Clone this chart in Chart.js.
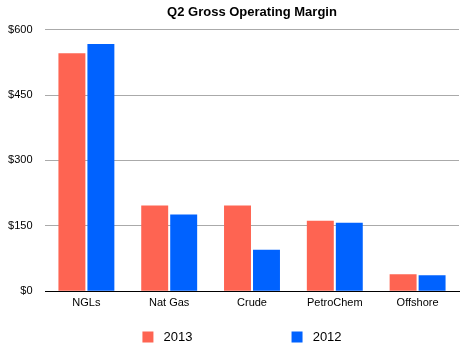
<!DOCTYPE html>
<html>
<head>
<meta charset="utf-8">
<script src="https://cdn.jsdelivr.net/npm/chart.js@4"></script>
<style>
  html, body { margin: 0; padding: 0; background: #fff; }
  #wrap { width: 464px; height: 355px; }
</style>
</head>
<body>
<div id="wrap"><canvas id="c"></canvas></div>
<script>
const titleText = 'Q2 Gross Operating Margin';
const categories = ['NGLs', 'Nat Gas', 'Crude', 'PetroChem', 'Offshore'];
const seriesNames = ['2013', '2012'];
const values2013 = [546, 197, 197, 162, 39];
const values2012 = [567, 176, 95, 157, 37];
const yTickValues = [0, 150, 300, 450, 600];
const yTickLabels = ['$0', '$150', '$300', '$450', '$600'];

const FONT = "'Liberation Sans', Arial, Helvetica, sans-serif";

const legendShift = {
  id: 'legendShift',
  afterLayout(chart) {
    if (chart.legend) {
      chart.legend.left += 8.5;
      chart.legend.right += 8.5;
    }
  }
};

new Chart(document.getElementById('c'), {
  type: 'bar',
  data: {
    labels: categories,
    datasets: [
      { label: seriesNames[0], data: values2013, backgroundColor: '#FE6452', borderWidth: 0 },
      { label: seriesNames[1], data: values2012, backgroundColor: '#0062FF', borderWidth: 0 }
    ]
  },
  plugins: [legendShift],
  options: {
    responsive: true,
    maintainAspectRatio: false,
    animation: false,
    categoryPercentage: 0.7,
    barPercentage: 0.93,
    layout: { padding: { left: 8, right: 5, top: 0, bottom: 1.5 } },
    plugins: {
      title: {
        display: true,
        text: titleText,
        fullSize: false,
        color: '#000',
        font: { family: FONT, size: 13, weight: 'bold' },
        padding: { top: 4.5, bottom: 9.5 }
      },
      legend: {
        display: true,
        position: 'bottom',
        labels: {
          boxWidth: 11,
          boxHeight: 11,
          padding: 16,
          color: '#000',
          font: { family: FONT, size: 13 },
          generateLabels: (chart) => {
            const items = Chart.defaults.plugins.legend.labels.generateLabels(chart);
            items.forEach((it, i) => {
              it.text = ' ' + it.text + (i === 0 ? ' '.repeat(23) : '');
              it.lineWidth = 0;
            });
            return items;
          }
        }
      },
      tooltip: { enabled: false }
    },
    scales: {
      x: {
        grid: { display: false, drawTicks: false },
        border: { display: true, color: '#000', width: 1 },
        ticks: { color: '#000', font: { family: FONT, size: 11 }, padding: 5 }
      },
      y: {
        min: 0,
        max: 600,
        afterFit: (scale) => { scale.width = 37; },
        afterBuildTicks: (scale) => { scale.ticks = yTickValues.map(v => ({ value: v })); },
        grid: { color: '#AAAAAA', drawTicks: false, lineWidth: 1 },
        border: { display: false },
        ticks: {
          color: '#000',
          font: { family: FONT, size: 11 },
          padding: 12.5,
          callback: (v) => yTickLabels[yTickValues.indexOf(v)]
        }
      }
    }
  }
});
</script>
</body>
</html>
